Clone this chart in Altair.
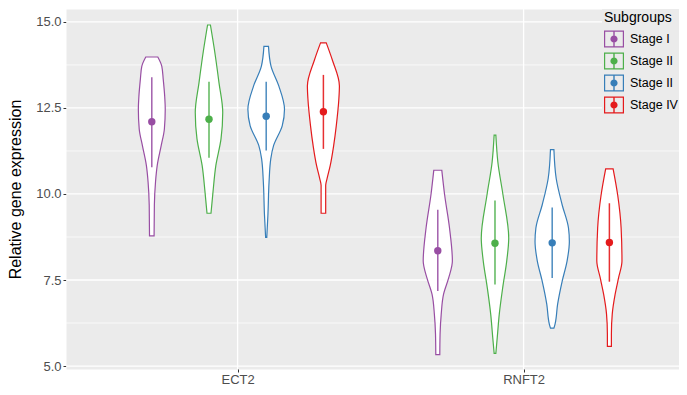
import altair as alt
import pandas as pd

# ---------------- data ----------------
genes = ["ECT2", "RNFT2"]
subgroup_keys = ["S1", "S2", "S3", "S4"]
subgroup_labels = ["Stage I", "Stage II", "Stage II", "Stage IV"]
colors = ["#984EA3", "#4DAF4A", "#377EB8", "#E41A1C"]

# violin outlines: expression value and half-width (x-axis units)
ect2_s1_y = [13.98, 13.71, 13.33, 12.85, 12.46, 11.89, 11.41, 10.83, 10.35, 9.68, 8.78]
ect2_s1_w = [0.021, 0.035, 0.040, 0.045, 0.047, 0.044, 0.033, 0.019, 0.013, 0.009, 0.008]
ect2_s2_y = [14.91, 14.19, 13.23, 12.37, 11.60, 10.83, 10.06, 9.44]
ect2_s2_w = [0.005, 0.019, 0.035, 0.048, 0.042, 0.024, 0.014, 0.007]
ect2_s3_y = [14.29, 13.71, 13.14, 12.46, 11.98, 11.41, 11.02, 10.35, 9.39, 8.74]
ect2_s3_w = [0.008, 0.017, 0.044, 0.064, 0.056, 0.026, 0.016, 0.010, 0.006, 0.002]
ect2_s4_y = [14.39, 13.90, 13.14, 12.75, 11.98, 11.41, 10.83, 10.45, 10.25, 9.44]
ect2_s4_w = [0.010, 0.031, 0.056, 0.054, 0.045, 0.036, 0.024, 0.013, 0.008, 0.008]

rnft2_s1_y = [10.69, 9.97, 9.01, 8.05, 7.56, 7.08, 6.51, 5.93, 5.33]
rnft2_s1_w = [0.014, 0.024, 0.041, 0.051, 0.038, 0.020, 0.012, 0.008, 0.007]
rnft2_s2_y = [11.71, 10.93, 9.97, 8.72, 8.05, 7.28, 6.51, 5.84, 5.37]
rnft2_s2_w = [0.003, 0.010, 0.028, 0.048, 0.041, 0.027, 0.015, 0.008, 0.003]
rnft2_s3_y = [11.29, 10.45, 9.68, 9.01, 8.62, 8.05, 7.47, 6.80, 6.22, 6.10]
rnft2_s3_w = [0.006, 0.014, 0.035, 0.057, 0.060, 0.052, 0.035, 0.019, 0.010, 0.006]
rnft2_s4_y = [10.73, 9.97, 9.01, 8.05, 7.56, 7.08, 6.51, 5.93, 5.57]
rnft2_s4_w = [0.013, 0.029, 0.041, 0.044, 0.032, 0.020, 0.010, 0.007, 0.007]

# mean and mean +/- sd per gene, subgroup order
ect2_mean = [12.10, 12.17, 12.26, 12.39]
ect2_lo = [10.78, 11.05, 11.26, 11.31]
ect2_hi = [13.39, 13.26, 13.26, 13.46]
rnft2_mean = [8.35, 8.57, 8.58, 8.59]
rnft2_lo = [7.18, 7.37, 7.56, 7.45]
rnft2_hi = [9.54, 9.81, 9.61, 9.73]

y_ticks = [5.0, 7.5, 10.0, 12.5, 15.0]
y_minor = [6.25, 8.75, 11.25, 13.75]

# ---------------- tables ----------------
dodge = [-0.3, -0.1, 0.1, 0.3]
profiles = {
    ("ECT2", 0): (ect2_s1_y, ect2_s1_w), ("ECT2", 1): (ect2_s2_y, ect2_s2_w),
    ("ECT2", 2): (ect2_s3_y, ect2_s3_w), ("ECT2", 3): (ect2_s4_y, ect2_s4_w),
    ("RNFT2", 0): (rnft2_s1_y, rnft2_s1_w), ("RNFT2", 1): (rnft2_s2_y, rnft2_s2_w),
    ("RNFT2", 2): (rnft2_s3_y, rnft2_s3_w), ("RNFT2", 3): (rnft2_s4_y, rnft2_s4_w),
}
rows = []
for (g, i), (ys, ws) in profiles.items():
    c = genes.index(g) + 1 + dodge[i]
    for v, w in sorted(zip(ys, ws)):
        rows.append({"vid": f"{g}-{i}", "key": subgroup_keys[i], "v": v,
                     "xl": c - w, "xr": c + w})
vdf = pd.DataFrame(rows)

srows = []
for g, means, los, his in [("ECT2", ect2_mean, ect2_lo, ect2_hi),
                           ("RNFT2", rnft2_mean, rnft2_lo, rnft2_hi)]:
    for i in range(4):
        srows.append({"kc": subgroup_keys[i], "center": genes.index(g) + 1 + dodge[i],
                      "mean": means[i], "lo": los[i], "hi": his[i]})
sdf = pd.DataFrame(srows)

# ---------------- scales / axes ----------------
FONT = "Liberation Sans"
yscale = alt.Scale(domain=[4.914, 15.375], nice=False, zero=False)
xscale = alt.Scale(domain=[0.4, 2.5434], nice=False, zero=False)

label_expr = " : ".join(
    f"datum.label == '{k}' ? '{l}'" for k, l in zip(subgroup_keys, subgroup_labels)
) + " : datum.label"
gene_expr = "datum.value == 1 ? 'ECT2' : datum.value == 2 ? 'RNFT2' : ''"

# legend key: outline ring, vertical bar and dot, drawn as filled shapes
KEY_PATH = ("M-1,-0.85H1V0.85H-1Z "
            "M-0.88,-0.73V0.73H0.88V-0.73Z "
            "M-0.07,-0.73H0.07V0.73H-0.07Z "
            "M0.36,0A0.36,0.36 0 1,1 -0.36,0A0.36,0.36 0 1,1 0.36,0Z")

legend = alt.Legend(
    title="Subgroups", orient="none", legendX=536, legendY=0,
    padding=2, fillColor="#EBEBEB",
    symbolType=KEY_PATH, symbolSize=400, symbolStrokeWidth=0,
    symbolOpacity=1,
    titleFont=FONT, titleFontSize=14, titleFontWeight="normal", titleColor="black",
    titlePadding=4,
    labelFont=FONT, labelFontSize=12.5, labelColor="black", labelOffset=6,
    rowPadding=3, labelExpr=label_expr,
)

yaxis = alt.Axis(
    values=y_ticks, format=".1f", grid=False, domain=False,
    tickColor="#333333", tickSize=3, tickWidth=1,
    labelColor="#4D4D4D", labelFontSize=13, labelFont=FONT, labelPadding=2,
    title="Relative gene expression", titleFont=FONT, titleFontSize=16,
    titleFontWeight="normal", titleColor="black", titlePadding=12,
)
xaxis = alt.Axis(
    values=[1, 2], labelExpr=gene_expr, grid=False, domain=False,
    tickColor="#333333", tickSize=3, tickWidth=1,
    labelColor="#4D4D4D", labelFontSize=13, labelFont=FONT, labelPadding=1,
    title=None,
)

# ---------------- layers ----------------
minor_grid = alt.Chart(pd.DataFrame({"g": y_minor})).mark_rule(
    color="white", strokeWidth=0.7
).encode(y=alt.Y("g:Q", scale=yscale, axis=yaxis))

major_grid = alt.Chart(pd.DataFrame({"g": y_ticks})).mark_rule(
    color="white", strokeWidth=1.3
).encode(y=alt.Y("g:Q", scale=yscale, axis=yaxis))

vert_grid = alt.Chart(pd.DataFrame({"gx": [1, 2]})).mark_rule(
    color="white", strokeWidth=1.3
).encode(x=alt.X("gx:Q", scale=xscale, axis=xaxis))

violins = alt.Chart(vdf).mark_area(
    orient="horizontal", interpolate="monotone", fill="white",
    strokeWidth=1.2, opacity=1,
).encode(
    y=alt.Y("v:Q", scale=yscale, axis=yaxis),
    x=alt.X("xl:Q", scale=xscale, axis=xaxis),
    x2="xr:Q",
    stroke=alt.Stroke("key:N", scale=alt.Scale(domain=subgroup_keys, range=colors),
                      legend=legend),
    detail="vid:N",
)

sd_rules = alt.Chart(sdf).mark_rule(strokeWidth=1.5, opacity=0.9).encode(
    x=alt.X("center:Q", scale=xscale, axis=xaxis),
    y=alt.Y("lo:Q", scale=yscale, axis=yaxis),
    y2="hi:Q",
    color=alt.Color("kc:N", scale=alt.Scale(domain=subgroup_keys, range=colors),
                    legend=None),
)

mean_pts = alt.Chart(sdf).mark_circle(size=55, opacity=1).encode(
    x=alt.X("center:Q", scale=xscale, axis=xaxis),
    y=alt.Y("mean:Q", scale=yscale, axis=yaxis),
    color=alt.Color("kc:N", scale=alt.Scale(domain=subgroup_keys, range=colors),
                    legend=None),
)

chart = alt.layer(
    minor_grid, major_grid, vert_grid, violins, sd_rules, mean_pts
).properties(
    width=613, height=360,
    autosize=alt.AutoSizeParams(type="none"),
    padding={"left": 58, "top": 1, "right": 0, "bottom": 18},
).configure(
    font=FONT, background="white"
).configure_view(
    fill="#EBEBEB", stroke="transparent"
)

chart.save("out.html", embed_options={"renderer": "svg", "actions": False})
